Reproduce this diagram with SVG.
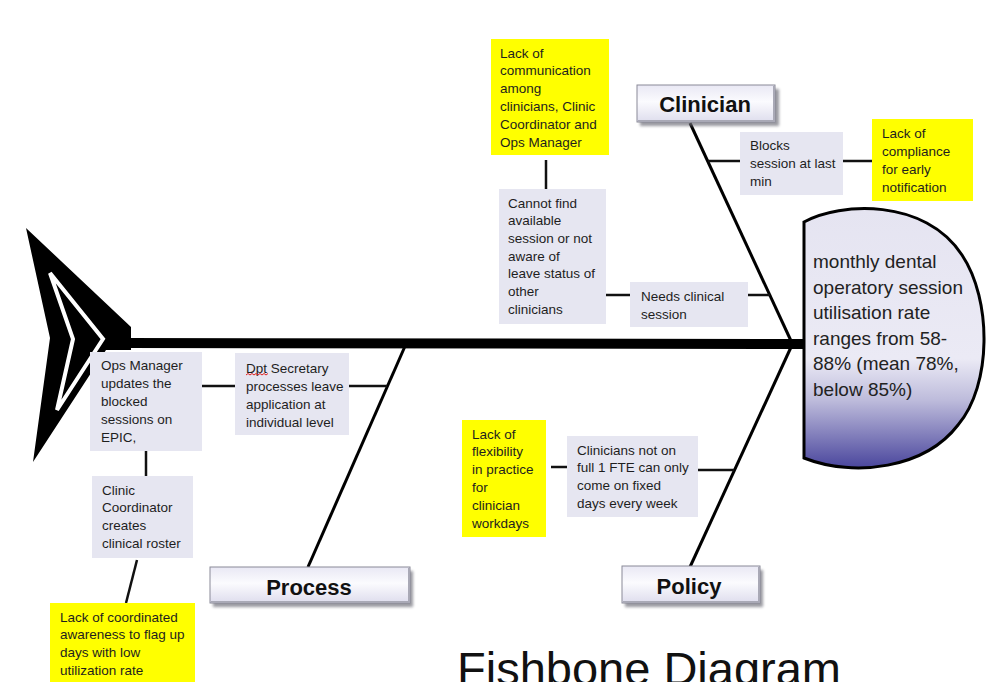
<svg xmlns="http://www.w3.org/2000/svg" width="988" height="682" viewBox="0 0 988 682">
  <defs>
    <linearGradient id="headFill" x1="0" y1="0" x2="0" y2="1">
      <stop offset="0" stop-color="#e5e4f1"/>
      <stop offset="0.58" stop-color="#ebeaf5"/>
      <stop offset="0.74" stop-color="#bdbbdb"/>
      <stop offset="1" stop-color="#4a469d"/>
    </linearGradient>
    <linearGradient id="labelFill" x1="0" y1="0" x2="0" y2="1">
      <stop offset="0" stop-color="#e9e8f4"/>
      <stop offset="0.45" stop-color="#fbfbfe"/>
      <stop offset="1" stop-color="#dedded"/>
    </linearGradient>
    <filter id="shadow" x="-10%" y="-20%" width="130%" height="160%">
      <feGaussianBlur stdDeviation="1.6"/>
    </filter>
    <style>
      .bone { stroke: #000; stroke-width: 3; fill: none; }
      .link { stroke: #111; stroke-width: 2.5; fill: none; }
      .cause { fill: #e6e6f1; }
      .note { fill: #ffff00; }
      .txt { font-family: "Liberation Sans", Arial, sans-serif; font-size: 13.5px; fill: #1e1e1e; }
      .lbl-bg { fill: url(#labelFill); stroke: #8a8a98; stroke-width: 1; }
      .lbl-sh { fill: #6e6e78; opacity: 0.7; filter: url(#shadow); }
      .lbl-edge { fill: none; stroke: #a9a9b6; stroke-width: 2; }
      .lbl { font-family: "Liberation Sans", Arial, sans-serif; font-size: 22px; font-weight: bold; fill: #111; text-anchor: middle; }
      .head-txt { font-family: "Liberation Sans", Arial, sans-serif; font-size: 19px; fill: #222; }
    </style>
  </defs>

  <rect x="0" y="0" width="988" height="682" fill="#ffffff"/>

  <!-- tail -->
  <g id="tail">
    <polygon points="26,228 131,327 131,350 106,350 33,462 50,338" fill="#000"/>
    <polygon points="50,273 103,339 57,410 73,339" fill="#000" stroke="#fff" stroke-width="4" stroke-linejoin="miter"/>
  </g>

  <!-- spine and bones -->
  <g id="connectors">
    <line x1="128" y1="343" x2="806" y2="344" stroke="#000" stroke-width="10"/>
    <line class="bone" x1="690" y1="123" x2="792" y2="343"/>
    <line class="bone" x1="690" y1="567" x2="792" y2="345"/>
    <line class="bone" x1="406" y1="344" x2="308" y2="567"/>

    <line class="link" x1="708" y1="161" x2="740" y2="161"/>
    <line class="link" x1="843" y1="161" x2="872" y2="161"/>
    <line class="link" x1="546" y1="160" x2="546" y2="189"/>
    <line class="link" x1="606" y1="295" x2="630" y2="295"/>
    <line class="link" x1="748" y1="295" x2="770" y2="295"/>

    <line class="link" x1="698" y1="470" x2="734" y2="470"/>
    <line class="link" x1="551" y1="467" x2="567" y2="467"/>

    <line class="link" x1="202" y1="386" x2="235" y2="386"/>
    <line class="link" x1="349" y1="386" x2="387" y2="386"/>
    <line class="link" x1="146" y1="451" x2="146" y2="476"/>
    <line class="link" x1="137" y1="560" x2="126" y2="603"/>
  </g>

  <!-- effect head -->
  <g id="head">
    <path d="M804,222 C840,202 925,198 962,255 C992,300 992,385 958,425 C925,468 855,478 804,458 Z" fill="url(#headFill)" stroke="#000" stroke-width="3"/>
    <text class="head-txt" x="813" y="268">monthly dental</text>
    <text class="head-txt" x="813" y="293.5">operatory session</text>
    <text class="head-txt" x="813" y="319">utilisation rate</text>
    <text class="head-txt" x="813" y="344.5">ranges from 58-</text>
    <text class="head-txt" x="813" y="370">88% (mean 78%,</text>
    <text class="head-txt" x="813" y="395.5">below 85%)</text>
  </g>

  <!-- category labels -->
  <g id="label-clinician">
    <rect class="lbl-sh" x="640" y="89" width="139" height="37"/>
    <rect class="lbl-bg" x="637" y="85" width="138" height="37"/>
    <path class="lbl-edge" d="M774,86 V121 H638"/>
    <text class="lbl" x="705" y="112">Clinician</text>
  </g>
  <g id="label-process">
    <rect class="lbl-sh" x="213" y="571" width="200" height="36"/>
    <rect class="lbl-bg" x="210" y="567" width="200" height="36"/>
    <path class="lbl-edge" d="M409,568 V602 H211"/>
    <text class="lbl" x="309" y="595">Process</text>
  </g>
  <g id="label-policy">
    <rect class="lbl-sh" x="625" y="570" width="138" height="37"/>
    <rect class="lbl-bg" x="622" y="566" width="138" height="37"/>
    <path class="lbl-edge" d="M759,567 V602 H623"/>
    <text class="lbl" x="689" y="594">Policy</text>
  </g>

  <!-- clinician branch -->
  <g id="note-communication">
    <rect class="note" x="491" y="39" width="118" height="116"/>
    <text class="txt" x="500" y="57.5">Lack of</text>
    <text class="txt" x="500" y="75.3">communication</text>
    <text class="txt" x="500" y="93.1">among</text>
    <text class="txt" x="500" y="110.9">clinicians, Clinic</text>
    <text class="txt" x="500" y="128.7">Coordinator and</text>
    <text class="txt" x="500" y="146.5">Ops Manager</text>
  </g>
  <g id="cause-blocks">
    <rect class="cause" x="740" y="132" width="103" height="63"/>
    <text class="txt" x="750" y="149.5">Blocks</text>
    <text class="txt" x="750" y="167.5">session at last</text>
    <text class="txt" x="750" y="185.5">min</text>
  </g>
  <g id="note-compliance">
    <rect class="note" x="872" y="119" width="101" height="82"/>
    <text class="txt" x="882" y="137.5">Lack of</text>
    <text class="txt" x="882" y="155.5">compliance</text>
    <text class="txt" x="882" y="173.5">for early</text>
    <text class="txt" x="882" y="191.5">notification</text>
  </g>
  <g id="cause-cannot-find">
    <rect class="cause" x="499" y="189" width="107" height="135"/>
    <text class="txt" x="508" y="207.5">Cannot find</text>
    <text class="txt" x="508" y="225.2">available</text>
    <text class="txt" x="508" y="242.9">session or not</text>
    <text class="txt" x="508" y="260.6">aware of</text>
    <text class="txt" x="508" y="278.3">leave status of</text>
    <text class="txt" x="508" y="296">other</text>
    <text class="txt" x="508" y="313.7">clinicians</text>
  </g>
  <g id="cause-needs-session">
    <rect class="cause" x="630" y="282" width="118" height="45"/>
    <text class="txt" x="641" y="300.5">Needs clinical</text>
    <text class="txt" x="641" y="318.5">session</text>
  </g>

  <!-- process branch -->
  <g id="cause-ops-manager">
    <rect class="cause" x="90" y="352" width="112" height="99"/>
    <text class="txt" x="101" y="369.5">Ops Manager</text>
    <text class="txt" x="101" y="387.5">updates the</text>
    <text class="txt" x="101" y="405.5">blocked</text>
    <text class="txt" x="101" y="423.5">sessions on</text>
    <text class="txt" x="101" y="441.5">EPIC,</text>
  </g>
  <g id="cause-dpt-secretary">
    <rect class="cause" x="235" y="353" width="114" height="82"/>
    <text class="txt" x="246" y="372.5">Dpt Secretary</text>
    <polyline points="246,375 248,373.5 250,375 252,373.5 254,375 256,373.5 258,375 260,373.5 262,375 264,373.5 266,375 268,373.5" fill="none" stroke="#e02020" stroke-width="1"/>
    <text class="txt" x="246" y="390.5">processes leave</text>
    <text class="txt" x="246" y="408.5">application at</text>
    <text class="txt" x="246" y="426.5">individual level</text>
  </g>
  <g id="cause-roster">
    <rect class="cause" x="92" y="476" width="101" height="82"/>
    <text class="txt" x="102" y="494.5">Clinic</text>
    <text class="txt" x="102" y="512.2">Coordinator</text>
    <text class="txt" x="102" y="529.9">creates</text>
    <text class="txt" x="102" y="547.6">clinical roster</text>
  </g>
  <g id="note-awareness">
    <rect class="note" x="50" y="603" width="145" height="79"/>
    <text class="txt" x="60" y="621.5">Lack of coordinated</text>
    <text class="txt" x="60" y="639.2">awareness to flag up</text>
    <text class="txt" x="60" y="656.9">days with low</text>
    <text class="txt" x="60" y="674.6">utilization rate</text>
  </g>

  <!-- policy branch -->
  <g id="note-flexibility">
    <rect class="note" x="462" y="420" width="84" height="117"/>
    <text class="txt" x="472" y="438.5"> Lack of</text>
    <text class="txt" x="472" y="456.3">flexibility</text>
    <text class="txt" x="472" y="474.1">in practice</text>
    <text class="txt" x="472" y="491.9">for</text>
    <text class="txt" x="472" y="509.7">clinician</text>
    <text class="txt" x="472" y="527.5">workdays</text>
  </g>
  <g id="cause-fte">
    <rect class="cause" x="567" y="436" width="131" height="81"/>
    <text class="txt" x="577" y="454.5">Clinicians not on</text>
    <text class="txt" x="577" y="472.2">full 1 FTE can only</text>
    <text class="txt" x="577" y="489.9">come on fixed</text>
    <text class="txt" x="577" y="507.6">days every week</text>
  </g>

  <!-- title, running past the bottom edge -->
  <g id="title">
    <text x="457" y="685" font-family="'Liberation Sans', Arial, sans-serif" font-size="47" fill="#111">Fishbone Diagram</text>
  </g>
</svg>
